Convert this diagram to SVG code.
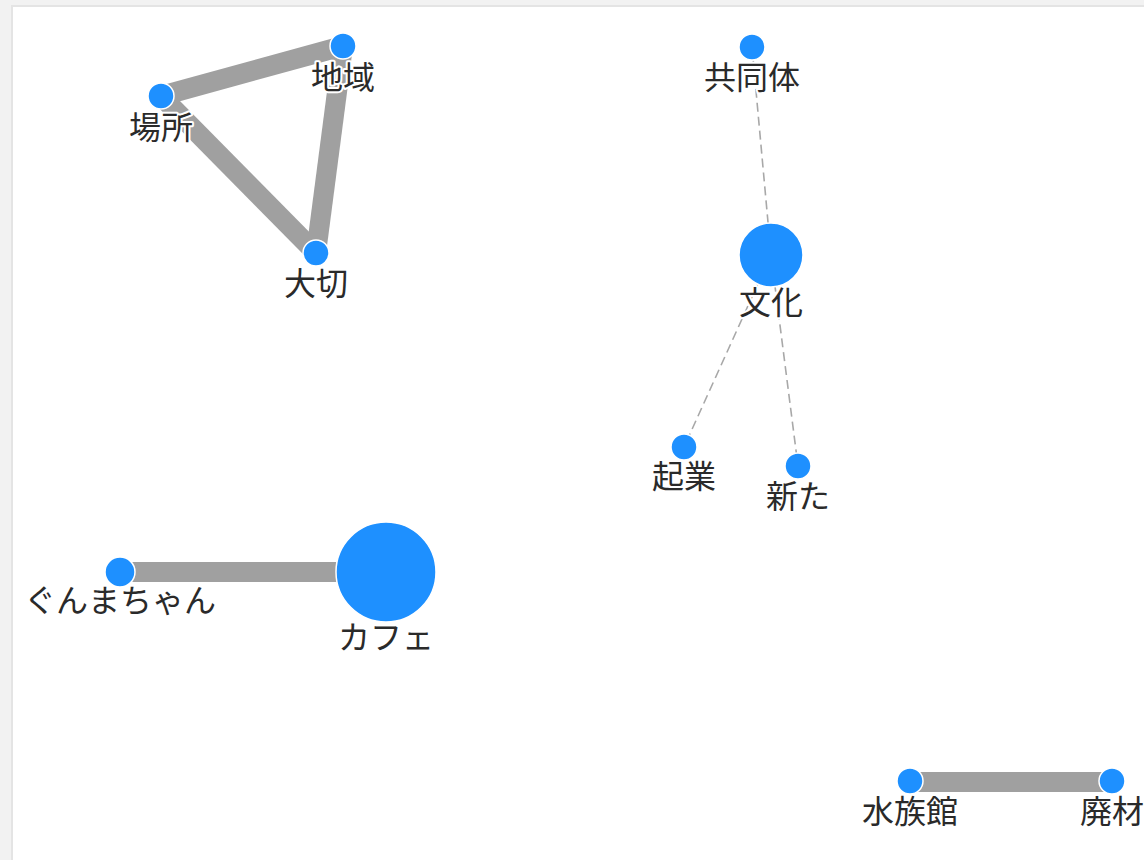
<svg xmlns="http://www.w3.org/2000/svg" width="1144" height="860" viewBox="0 0 1144 860">
<style>
.bg{fill:#f2f2f2}
.panel{fill:#fff;stroke:#e4e4e4;stroke-width:2}
.thick{stroke:#a0a0a0;stroke-linecap:butt;fill:none}
.dash{stroke:#a8a8a8;stroke-width:1.6;stroke-dasharray:9 5;fill:none}
.node circle{fill:#1e90ff;stroke:#fff;stroke-width:1.5}
.node text{font-family:"Noto Sans CJK JP","Noto Sans",sans-serif;font-size:32px;fill:#2a2a2a;text-anchor:middle;stroke:#fff;stroke-width:4;paint-order:stroke;stroke-linejoin:round}
</style>
<rect class="bg" x="0" y="0" width="1144" height="860"/>
<rect class="panel" x="12" y="6" width="1150" height="870"/>
<g id="connectors">
<line class="thick" x1="161" y1="96" x2="343" y2="46" stroke-width="20"/>
<line class="thick" x1="161" y1="96" x2="316" y2="253" stroke-width="20"/>
<line class="thick" x1="343" y1="46" x2="316" y2="253" stroke-width="20"/>
<line class="dash" x1="752" y1="47" x2="771" y2="255"/>
<line class="dash" x1="771" y1="255" x2="684" y2="447"/>
<line class="dash" x1="771" y1="255" x2="798" y2="466"/>
<line class="thick" x1="120" y1="572" x2="386" y2="572" stroke-width="20"/>
<line class="thick" x1="910" y1="782" x2="1112" y2="782" stroke-width="20"/>
</g>
<g id="node-chiiki" class="node"><circle cx="343" cy="46" r="13"/><text x="343" y="89">地域</text></g>
<g id="node-basho" class="node"><circle cx="161" cy="96" r="13"/><text x="161" y="139">場所</text></g>
<g id="node-taisetsu" class="node"><circle cx="316" cy="253" r="13"/><text x="316" y="295">大切</text></g>
<g id="node-kyodotai" class="node"><circle cx="752" cy="47" r="13"/><text x="752" y="89">共同体</text></g>
<g id="node-bunka" class="node"><circle cx="771" cy="255" r="32"/><text x="771" y="314">文化</text></g>
<g id="node-kigyo" class="node"><circle cx="684" cy="447" r="13"/><text x="684" y="488">起業</text></g>
<g id="node-arata" class="node"><circle cx="798" cy="466" r="13"/><text x="798" y="508">新た</text></g>
<g id="node-gunmachan" class="node"><circle cx="120" cy="572" r="15"/><text x="120" y="612">ぐんまちゃん</text></g>
<g id="node-cafe" class="node"><circle cx="386" cy="572" r="50"/><text x="386" y="649">カフェ</text></g>
<g id="node-suizokukan" class="node"><circle cx="910" cy="781" r="13"/><text x="910" y="823">水族館</text></g>
<g id="node-haizai" class="node"><circle cx="1112" cy="781" r="13"/><text x="1112" y="823">廃材</text></g>
</svg>
